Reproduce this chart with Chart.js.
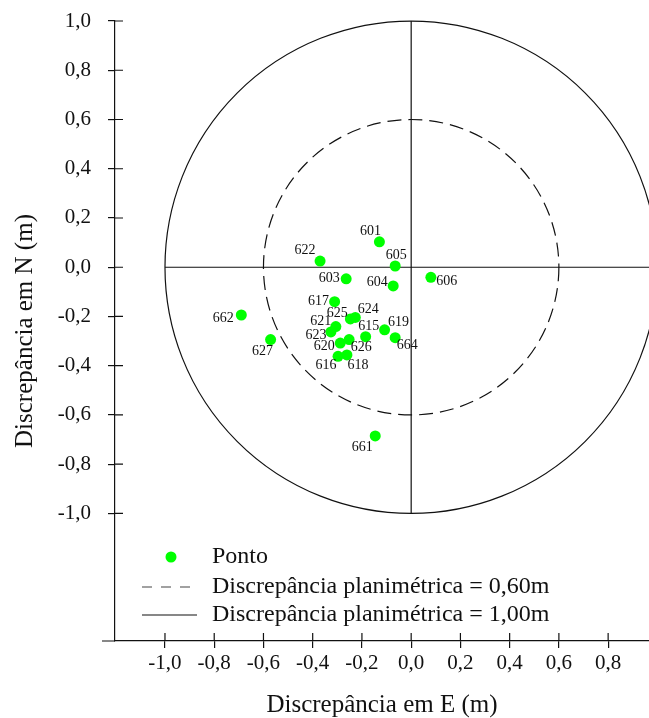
<!DOCTYPE html>
<html>
<head>
<meta charset="utf-8">
<script src="https://cdn.jsdelivr.net/npm/chart.js@4"></script>
<style>
  body { margin: 0; background: #fff; }
  #wrap { width: 649px; height: 718px; position: relative; }
</style>
</head>
<body>
<div id="wrap"><canvas id="chart"></canvas></div>
<script>
// Point data (discrepancies in metres)
const pointIds = ['601','622','605','603','604','606','617','625','624','621','623','615','619','664','620','626','616','618','662','627','661'];
const discE = [-0.129,-0.370,-0.065,-0.264,-0.073,0.080,-0.311,-0.247,-0.227,-0.306,-0.326,-0.185,-0.108,-0.065,-0.288,-0.252,-0.297,-0.261,-0.690,-0.571,-0.146];
const discN = [0.103,0.025,0.005,-0.047,-0.076,-0.041,-0.140,-0.210,-0.204,-0.241,-0.263,-0.282,-0.254,-0.286,-0.308,-0.294,-0.362,-0.356,-0.194,-0.294,-0.685];

// tolerance circles
const radii = [0.6, 1.0];
const legendLabels = ['Ponto', 'Discrepância planimétrica = 0,60m', 'Discrepância planimétrica = 1,00m'];

// tick labels
const xTicks = [-1.0,-0.8,-0.6,-0.4,-0.2,0.0,0.2,0.4,0.6,0.8];
const yTicks = [1.0,0.8,0.6,0.4,0.2,0.0,-0.2,-0.4,-0.6,-0.8,-1.0];

// where each label sits relative to its point (px)
const labelOffsets = [[-9,-11],[-15,-11],[1,-11],[-17,0],[-16,-4],[16,4],[-16,0],[-13,-6],[13,-8],[-15,-5],[-15,3],[3,-10],[14,-7],[12,8],[-16,3],[12,8],[-12,9],[11,10],[-18,3],[-8,12],[-13,11]];

const serif = 'Liberation Serif';
const green = '#00ff00';
const ink = '#111';

function fmt(v) {
  return v.toFixed(1).replace('.', ',').replace('-0,0', '0,0');
}

const overlay = {
  id: 'overlay',
  beforeDatasetsDraw(chart) {
    const ctx = chart.ctx;
    const x = chart.scales.x, y = chart.scales.y;
    const cx = x.getPixelForValue(0), cy = y.getPixelForValue(0);
    ctx.save();
    ctx.strokeStyle = ink;
    ctx.lineWidth = 1.2;
    // circles
    radii.forEach((r, i) => {
      const rp = x.getPixelForValue(r) - cx;
      ctx.setLineDash(i === 0 ? [14, 7] : []);
      ctx.beginPath();
      ctx.arc(cx, cy, rp, 0, Math.PI * 2);
      ctx.stroke();
    });
    ctx.setLineDash([]);
    const R = radii[radii.length - 1];
    ctx.beginPath();
    ctx.moveTo(x.getPixelForValue(-R), cy);
    ctx.lineTo(x.getPixelForValue(R), cy);
    ctx.moveTo(cx, y.getPixelForValue(R));
    ctx.lineTo(cx, y.getPixelForValue(-R));
    ctx.stroke();
    ctx.restore();
  },
  afterDraw(chart) {
    const ctx = chart.ctx;
    const area = chart.chartArea;
    const x = chart.scales.x, y = chart.scales.y;
    ctx.save();
    // inner tick parts
    ctx.strokeStyle = ink;
    ctx.lineWidth = 1.2;
    ctx.beginPath();
    xTicks.forEach(v => {
      const px = x.getPixelForValue(v);
      ctx.moveTo(px, area.bottom);
      ctx.lineTo(px, area.bottom - 8);
    });
    yTicks.forEach(v => {
      const py = y.getPixelForValue(v);
      ctx.moveTo(area.left, py);
      ctx.lineTo(area.left + 8, py);
    });
    ctx.moveTo(area.left - 13, area.bottom);
    ctx.lineTo(area.left, area.bottom);
    ctx.stroke();

    // point labels
    const meta = chart.getDatasetMeta(0);
    ctx.fillStyle = ink;
    ctx.font = '14px "' + serif + '"';
    ctx.textAlign = 'center';
    ctx.textBaseline = 'middle';
    meta.data.forEach((el, i) => {
      const o = labelOffsets[i];
      ctx.fillText(pointIds[i], el.x + o[0], el.y + o[1]);
    });

    // legend
    const lx = 142, tx = 212;
    const rows = [557, 587, 615];
    ctx.font = '24px "' + serif + '"';
    ctx.textAlign = 'left';
    ctx.fillStyle = green;
    ctx.beginPath();
    ctx.arc(171, rows[0], 5.5, 0, Math.PI * 2);
    ctx.fill();
    ctx.strokeStyle = '#444';
    ctx.lineWidth = 1.2;
    ctx.setLineDash([10, 9]);
    ctx.beginPath();
    ctx.moveTo(lx, rows[1]);
    ctx.lineTo(lx + 55, rows[1]);
    ctx.stroke();
    ctx.setLineDash([]);
    ctx.strokeStyle = ink;
    ctx.beginPath();
    ctx.moveTo(lx, rows[2]);
    ctx.lineTo(lx + 55, rows[2]);
    ctx.stroke();
    ctx.fillStyle = ink;
    legendLabels.forEach((t, i) => ctx.fillText(t, tx, rows[i]));
    ctx.restore();
  }
};

const axisCommon = {
  type: 'linear',
  grid: { drawOnChartArea: false, drawTicks: true, tickLength: 7, color: ink, lineWidth: 1.2 },
  border: { display: true, color: ink, width: 1.2 },
  title: { display: true, color: ink, font: { family: serif, size: 25, lineHeight: 1 } }
};

function noPad(s) {
  s.paddingTop = 0; s.paddingBottom = 0; s.paddingLeft = 0; s.paddingRight = 0;
}

new Chart(document.getElementById('chart'), {
  type: 'scatter',
  data: {
    datasets: [{
      label: legendLabels[0],
      data: discE.map((e, i) => ({ x: e, y: discN[i] })),
      pointRadius: 5.5,
      pointHoverRadius: 5.5,
      backgroundColor: green,
      borderWidth: 0
    }]
  },
  options: {
    responsive: true,
    maintainAspectRatio: false,
    animation: false,
    layout: { autoPadding: false, padding: { top: 21, right: 0, left: 0, bottom: 0 } },
    plugins: { legend: { display: false }, tooltip: { enabled: false } },
    scales: {
      x: {
        ...axisCommon,
        min: -1.203, max: 0.966,
        afterBuildTicks: s => { s.ticks = xTicks.map(v => ({ value: v })); },
        afterFit: s => { s.height = 77; noPad(s); },
        ticks: { color: ink, font: { family: serif, size: 21 }, padding: 3, maxRotation: 0, autoSkip: false, callback: v => fmt(v) },
        title: { ...axisCommon.title, text: 'Discrepância em E (m)', padding: { top: 0, bottom: 0 } }
      },
      y: {
        ...axisCommon,
        min: -1.518, max: 1.0,
        afterBuildTicks: s => { s.ticks = yTicks.map(v => ({ value: v })); },
        afterFit: s => { s.width = 115; noPad(s); },
        ticks: { color: ink, font: { family: serif, size: 21 }, padding: 17, autoSkip: false, callback: v => fmt(v) },
        title: { ...axisCommon.title, text: 'Discrepância em N (m)', padding: { top: 13, bottom: 0 } }
      }
    }
  },
  plugins: [overlay]
});
</script>
</body>
</html>
